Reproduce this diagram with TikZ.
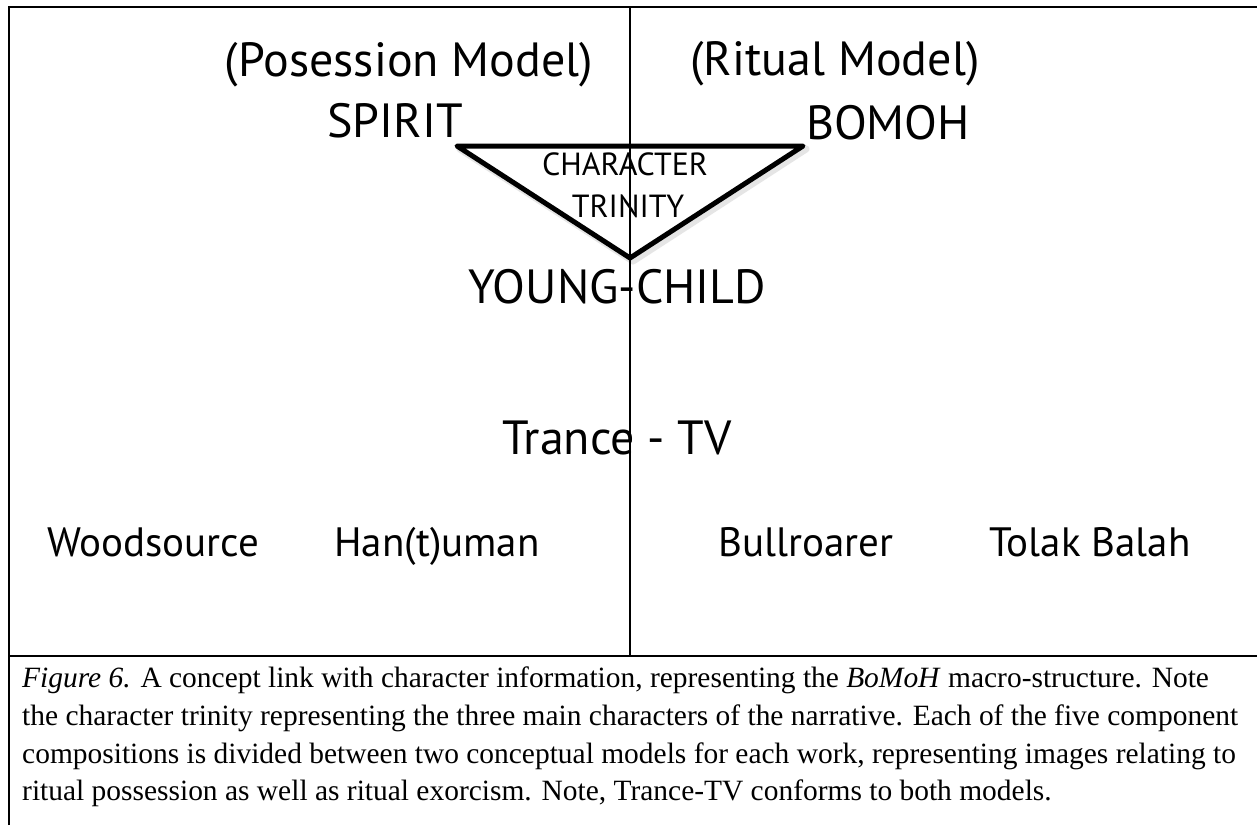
\documentclass[tikz,border=0pt]{standalone}
\usepackage{fontspec}
\setmainfont{Liberation Serif}
\newfontfamily\lblfont{PT Sans}
\begin{document}
\begin{tikzpicture}[x=1pt,y=-1pt,
  big/.style={font=\lblfont\fontsize{48}{56}\selectfont, inner sep=0pt, anchor=base},
  mid/.style={font=\lblfont\fontsize{41}{48}\selectfont, inner sep=0pt, anchor=base},
  small/.style={font=\lblfont\fontsize{32}{40}\selectfont, inner sep=0pt, anchor=base},
  capline/.style={font=\fontsize{29.45}{38}\selectfont, inner sep=0pt, anchor=base west},
  frame/.style={line width=2.5pt, black},
  divider/.style={line width=2pt, black},
  trinity/.style={line width=5pt, line join=round, black},
  shadow/.style={line width=7pt, line join=round, black!10}]
\useasboundingbox (0,0) rectangle (1257,825);
\fill[white] (0,0) rectangle (1257,825);
% frame
\coordinate (ftl) at (9,7);
\coordinate (ftr) at (1257,7);
\coordinate (fbl) at (9,825);
\coordinate (sepl) at (9,656);
\coordinate (sepr) at (1257,656);
\coordinate (vtop) at (630,7);
\coordinate (vbot) at (630,656);
\draw[frame] (fbl) -- (ftl) -- (ftr);
\draw[frame] (sepl) -- (sepr);
% triangle
\coordinate (ta) at (457,146);
\coordinate (tb) at (803,146);
\coordinate (tc) at (630,258);
\draw[shadow] ([shift={(3,3)}]ta) -- ([shift={(3,3)}]tb) -- ([shift={(3,3)}]tc) -- cycle;
\fill[white] (ta) -- (tb) -- (tc) -- cycle;
\draw[divider] (vtop) -- (vbot);
\draw[trinity] (ta) -- (tb) -- (tc) -- cycle;
% labels
\node[big] (pos) at (409,76) {(Posession Model)};
\node[big] (rit) at (835,75) {(Ritual Model)};
\node[big] (spirit) at (395,137) {SPIRIT};
\node[big] (bomoh) at (888,139) {BOMOH};
\node[small] (char) at (625,175) {CHARACTER};
\node[small] (trin) at (628,217) {TRINITY};
\node[big] (young) at (617,303) {YOUNG-CHILD};
\node[big] (trance) at (617,454) {Trance - TV};
\node[mid] (wood) at (153,556) {Woodsource};
\node[mid] (han) at (437,556) {Han(t)uman};
\node[mid] (bull) at (806,556) {Bullroarer};
\node[mid] (tolak) at (1090,556) {Tolak Balah};
% caption
\node[capline] (cap1) at (22,687) {\textit{Figure 6.} A concept link with character information, representing the \textit{BoMoH} macro-structure. Note};
\node[capline] (cap2) at (22,725) {the character trinity representing the three main characters of the narrative. Each of the five component};
\node[capline] (cap3) at (22,763) {compositions is divided between two conceptual models for each work, representing images relating to};
\node[capline] (cap4) at (22,800) {ritual possession as well as ritual exorcism. Note, Trance-TV conforms to both models.};
\end{tikzpicture}
\end{document}
